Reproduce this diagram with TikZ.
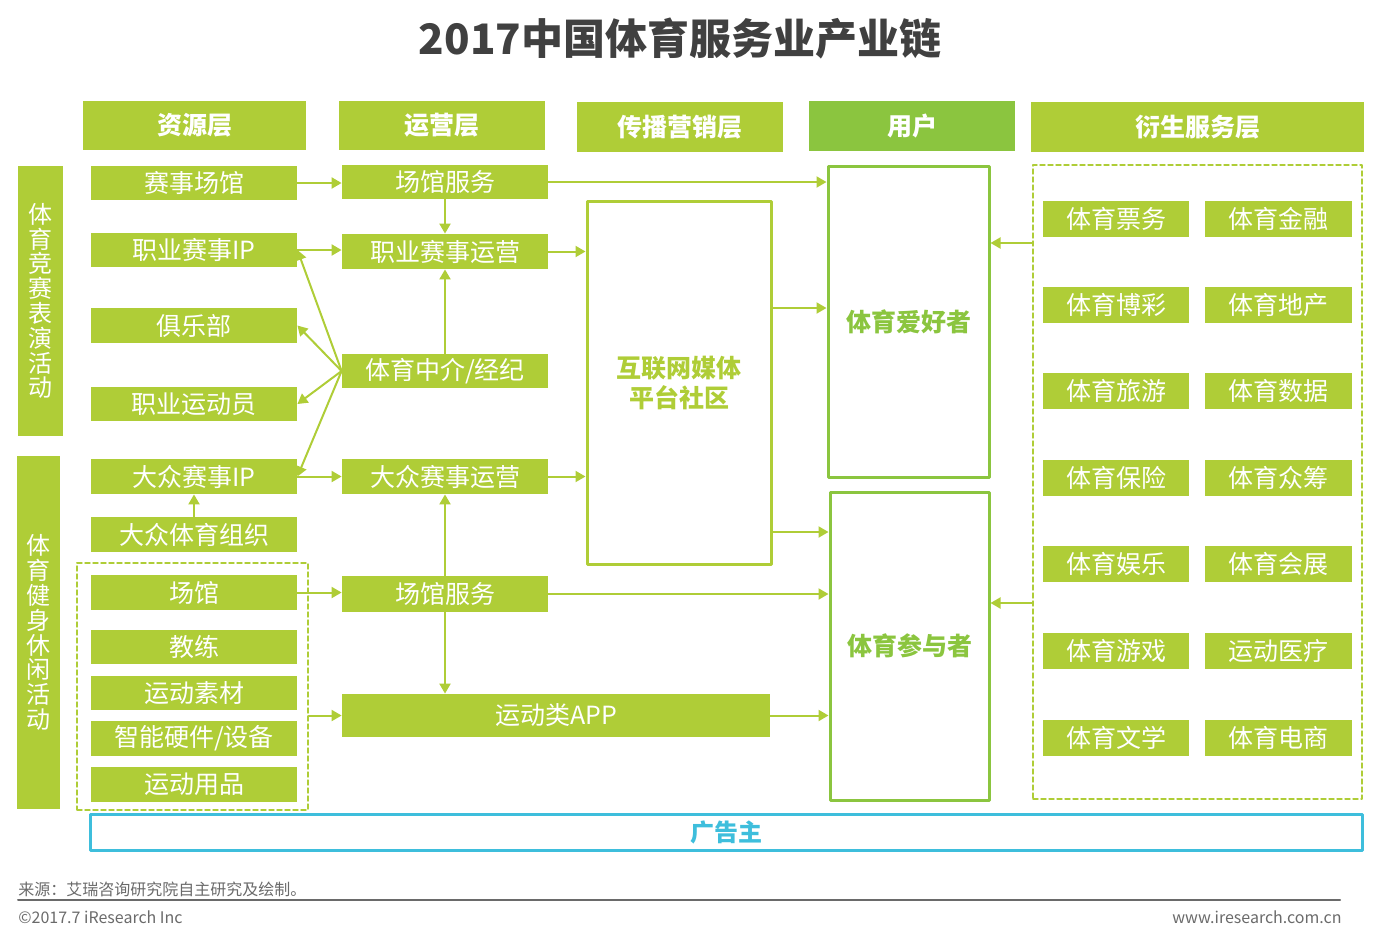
\documentclass[tikz,border=0pt]{standalone}
\usepackage{fontspec}
\newfontfamily\cjk{Noto Sans CJK SC}
\usetikzlibrary{arrows.meta}

\definecolor{irGreen}{HTML}{AFCD37}
\definecolor{irUser}{HTML}{8BC53F}
\definecolor{irCyan}{HTML}{3EBEDC}
\definecolor{irTitle}{HTML}{404040}
\definecolor{irGray}{HTML}{6A6A6A}

\begin{document}
\begin{tikzpicture}[x=0.5pt, y=-0.5pt, line cap=round, line join=round, font=\cjk]

% ---------------- styles ----------------
\tikzset{
  chainBox/.style  ={fill=irGreen, text=white, inner sep=0pt, font=\cjk\fontsize{12.5}{14}\selectfont},
  chainHead/.style ={fill=irGreen, text=white, inner sep=0pt, font=\cjk\bfseries\fontsize{12.5}{14}\selectfont},
  chainSide/.style ={fill=irGreen, text=white, inner sep=0pt, align=center, font=\cjk\fontsize{12}{12.4}\selectfont},
  chainFrame/.style={draw=irGreen, line width=1.5pt, text=irGreen, align=center, font=\cjk\bfseries\fontsize{12.5}{15}\selectfont},
  chainUser/.style ={draw=irUser, line width=1.5pt, text=irUser, font=\cjk\bfseries\fontsize{12.5}{14}\selectfont},
  chainAd/.style   ={draw=irCyan, line width=1.5pt, text=irCyan, font=\cjk\bfseries\fontsize{12}{14}\selectfont},
  chainDash/.style ={draw=irGreen, line width=0.7pt, dash pattern=on 2.5pt off 1.5pt},
  chainArr/.style  ={draw=irGreen, line width=1pt, -{Triangle[length=5pt, width=5.5pt]}},
  chainNote/.style ={text=irGray, inner sep=0pt, font=\cjk\fontsize{8}{9}\selectfont}
}

% helper: block between pixel corners (x1,y1) and (x2,y2)
\newcommand{\Blk}[7]{%
  \node[#1, minimum width={(#5-#3)*0.5pt}, minimum height={(#6-#4)*0.5pt}]
    (#2) at ({(#3+#5)/2},{(#4+#6)/2}) {#7};%
}

\useasboundingbox (0,0) rectangle (1384,944);

% ---------------- title ----------------
\node[text=irTitle, font=\cjk\bfseries\fontsize{21}{24}\selectfont] (title) at (680,38) {2017中国体育服务业产业链};

% ---------------- column heads ----------------
\Blk{chainHead}{hRes}{83}{101}{306}{150}{资源层}
\Blk{chainHead}{hOps}{339}{101}{545}{150}{运营层}
\Blk{chainHead}{hMkt}{577}{102}{783}{152}{传播营销层}
\Blk{chainHead, fill=irUser}{hUsr}{809}{101}{1015}{151}{用户}
\Blk{chainHead}{hDer}{1031}{102}{1364}{152}{衍生服务层}

% ---------------- side bars ----------------
\Blk{chainSide}{sCmp}{18}{166}{63}{436}{体\\育\\竞\\赛\\表\\演\\活\\动}
\Blk{chainSide}{sFit}{17}{456}{60}{809}{体\\育\\健\\身\\休\\闲\\活\\动}

% ---------------- resource layer ----------------
\Blk{chainBox}{rVen}{91}{166}{297}{200}{赛事场馆}
\Blk{chainBox}{rPip}{91}{233}{297}{267}{职业赛事IP}
\Blk{chainBox}{rClub}{91}{308}{297}{343}{俱乐部}
\Blk{chainBox}{rAth}{91}{387}{297}{421}{职业运动员}
\Blk{chainBox}{rMip}{91}{459}{297}{494}{大众赛事IP}
\Blk{chainBox}{rOrg}{91}{517}{297}{552}{大众体育组织}
\Blk{chainBox}{rGym}{91}{575}{297}{610}{场馆}
\Blk{chainBox}{rCoach}{91}{630}{297}{664}{教练}
\Blk{chainBox}{rMat}{91}{676}{297}{710}{运动素材}
\Blk{chainBox}{rDev}{91}{721}{297}{756}{智能硬件/设备}
\Blk{chainBox}{rGear}{91}{767}{297}{802}{运动用品}
\Blk{chainDash}{rFit}{77}{563}{308}{810}{}

% ---------------- operation layer ----------------
\Blk{chainBox}{oVen}{342}{165}{548}{199}{场馆服务}
\Blk{chainBox}{oPro}{342}{234}{548}{269}{职业赛事运营}
\Blk{chainBox}{oAgt}{342}{354}{548}{388}{体育中介/经纪}
\Blk{chainBox}{oMas}{342}{459}{548}{494}{大众赛事运营}
\Blk{chainBox}{oGym}{342}{576}{548}{612}{场馆服务}
\Blk{chainBox}{oApp}{342}{694}{770}{737}{运动类APP}

% ---------------- media + users ----------------
\Blk{chainFrame}{mNet}{587}{201}{771}{564}{互联网媒体\\平台社区}
\Blk{chainUser}{uFan}{828}{166}{989}{477}{体育爱好者}
\Blk{chainUser}{uPlay}{830}{492}{989}{800}{体育参与者}

% ---------------- derived services ----------------
\Blk{chainDash}{dAll}{1033}{165}{1362}{799}{}
\foreach \i/\y/\a/\b in {1/201/体育票务/体育金融, 2/287/体育博彩/体育地产,
    3/373/体育旅游/体育数据, 4/460/体育保险/体育众筹, 5/546/体育娱乐/体育会展,
    6/633/体育游戏/运动医疗, 7/720/体育文学/体育电商} {
  \Blk{chainBox}{dL\i}{1043}{\y}{1189}{\y+36}{\a}
  \Blk{chainBox}{dR\i}{1205}{\y}{1352}{\y+36}{\b}
}

% advertisers
\Blk{chainAd}{adv}{90}{817}{1362}{848}{广告主}

% ---------------- arrows ----------------
\draw[chainArr] (rVen.east) -- (rVen.east -| oVen.west);
\draw[chainArr] (rPip.east) -- (rPip.east -| oPro.west);
\draw[chainArr] (rMip.east) -- (rMip.east -| oMas.west);
\draw[chainArr] (rGym.east) -- (rGym.east -| oGym.west);
\draw[chainArr] (rFit.east |- oApp.west) -- (oApp.west);
\draw[chainArr] (rOrg.north) -- (rMip.south);

\foreach \t in {rPip, rClub, rAth, rMip}
  \draw[chainArr] (oAgt.west) -- (\t.east);

\draw[chainArr] (oVen.south) -- (oPro.north);
\draw[chainArr] (oAgt.north) -- (oPro.south);
\draw[chainArr] (oGym.north) -- (oMas.south);
\draw[chainArr] (oGym.south) -- (oApp.north -| oGym.south);

\draw[chainArr] (oVen.east) -- (oVen.east -| uFan.west);
\draw[chainArr] (oPro.east) -- (oPro.east -| mNet.west);
\draw[chainArr] (oMas.east) -- (oMas.east -| mNet.west);
\draw[chainArr] (mNet.east |- 0,308) -- (uFan.west |- 0,308);
\draw[chainArr] (mNet.east |- 0,532) -- (uPlay.west |- 0,532);
\draw[chainArr] (oGym.east) -- (oGym.east -| uPlay.west);
\draw[chainArr] (oApp.east) -- (oApp.east -| uPlay.west);

\draw[chainArr] (dAll.west |- 0,243) -- (uFan.east |- 0,243);
\draw[chainArr] (dAll.west |- 0,603) -- (uPlay.east |- 0,603);

% ---------------- footer ----------------
\node[chainNote, anchor=west] (src) at (18,889) {来源：艾瑞咨询研究院自主研究及绘制。};
\draw[irGray, line width=1pt] (18,900) -- (1340,900);
\node[chainNote, anchor=west] (copy) at (18,917) {©2017.7 iResearch Inc};
\node[chainNote, anchor=east] (web) at (1342,917) {www.iresearch.com.cn};

\end{tikzpicture}
\end{document}
